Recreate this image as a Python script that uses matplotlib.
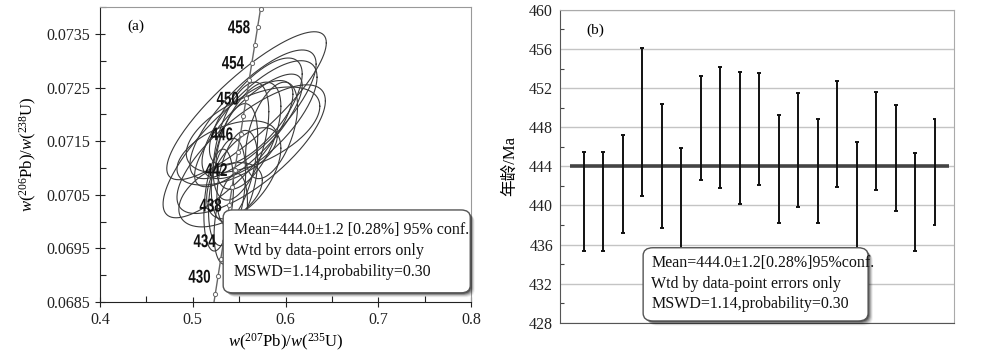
import numpy as np
import matplotlib
matplotlib.use("Agg")
import matplotlib.pyplot as plt
from matplotlib.patches import FancyBboxPatch, PathPatch
from matplotlib.textpath import TextPath
from matplotlib.font_manager import FontProperties
from matplotlib.transforms import Affine2D, ScaledTranslation
from matplotlib.ticker import MultipleLocator

# ---------------- data ----------------
# Panel (a): concordia ages (Ma) with markers and labels
marker_ages = [426, 428, 430, 432, 434, 436, 438, 440, 442, 444, 446, 448, 450, 452, 454, 456, 458, 460, 462]
label_ages = [430, 434, 438, 442, 446, 450, 454, 458]
LAMBDA_238 = 1.55125e-4   # per Ma
LAMBDA_235 = 9.8485e-4    # per Ma

# error ellipses: centre x, centre y, half-width x, half-height y, correlation
ell_cx = [0.558, 0.563, 0.538, 0.565, 0.572, 0.560, 0.537, 0.565, 0.528, 0.537,
          0.545, 0.552, 0.560, 0.548, 0.541, 0.585, 0.555, 0.530, 0.568]
ell_cy = [0.07216, 0.07135, 0.07135, 0.07200, 0.07190, 0.07170, 0.07128, 0.07171, 0.07040, 0.07055,
          0.07110, 0.07150, 0.07160, 0.07080, 0.07005, 0.07170, 0.07090, 0.07050, 0.07205]
ell_sx = [0.086, 0.080, 0.070, 0.068, 0.062, 0.058, 0.054, 0.072, 0.016, 0.020,
          0.025, 0.030, 0.035, 0.022, 0.018, 0.028, 0.040, 0.045, 0.050]
ell_sy = [0.00138, 0.00120, 0.00128, 0.00120, 0.00110, 0.00105, 0.00060, 0.00080, 0.00095, 0.00100,
          0.00110, 0.00110, 0.00100, 0.00090, 0.00085, 0.00090, 0.00085, 0.00060, 0.00100]
ell_rho = [0.85, 0.75, 0.80, 0.78, 0.72, 0.80, 0.50, 0.55, 0.30, 0.35,
           0.45, 0.50, 0.55, 0.40, 0.35, 0.50, 0.55, 0.45, 0.70]

xticks_a = [0.4, 0.5, 0.6, 0.7, 0.8]
xticklabels_a = ['0.4', '0.5', '0.6', '0.7', '0.8']
yticks_a = [0.0685, 0.0695, 0.0705, 0.0715, 0.0725, 0.0735]
yticklabels_a = ['0.0685', '0.0695', '0.0705', '0.0715', '0.0725', '0.0735']

# Panel (b): weighted mean plot, error bar tops and bottoms (Ma)
bar_top = [445.5, 445.5, 447.2, 456.1, 450.4, 445.9, 453.2, 454.2, 453.6, 453.5,
           449.3, 451.5, 448.8, 452.7, 446.5, 451.6, 450.3, 445.4, 448.8]
bar_bot = [435.3, 435.3, 437.2, 441.0, 437.7, 434.3, 442.6, 441.8, 440.2, 442.1,
           438.2, 439.8, 438.2, 441.9, 434.3, 441.6, 439.4, 435.3, 438.0]
mean_age = 444.0

text_a = ["Mean=444.0\u00b11.2 [0.28%] 95% conf.", "Wtd by data-point errors only", "MSWD=1.14,probability=0.30"]
text_b = ["Mean=444.0\u00b11.2[0.28%]95%conf.", "Wtd by data-point errors only", "MSWD=1.14,probability=0.30"]

# ---------------- style ----------------
plt.rcParams['font.family'] = ['Liberation Serif', 'Noto Sans CJK SC', 'DejaVu Sans']
plt.rcParams['mathtext.fontset'] = 'custom'
plt.rcParams['mathtext.rm'] = 'Liberation Serif'
plt.rcParams['mathtext.it'] = 'Liberation Serif:italic'

DPI = 100
fig = plt.figure(figsize=(10, 3.54), dpi=DPI)
axa = fig.add_axes([0.100, 0.147, 0.371, 0.833])
axb = fig.add_axes([0.560, 0.088, 0.394, 0.884])


def shadow_box(ax, x0, y0, w, h, lines, fs, tx, ty, dy):
    for k, a in zip(range(6, 0, -1), [0.06, 0.09, 0.13, 0.18, 0.25, 0.35]):
        off = k * 0.0025
        sh = FancyBboxPatch((x0 + off * 0.8, y0 - off), w, h,
                            boxstyle="round,pad=0,rounding_size=0.025",
                            transform=ax.transAxes, facecolor='black', edgecolor='none',
                            alpha=a, clip_on=False, zorder=8)
        ax.add_patch(sh)
    box = FancyBboxPatch((x0, y0), w, h, boxstyle="round,pad=0,rounding_size=0.025",
                         transform=ax.transAxes, facecolor='white', edgecolor='#555555',
                         linewidth=1.0, clip_on=False, zorder=9)
    ax.add_patch(box)
    for i, s in enumerate(lines):
        ax.text(tx, ty - i * dy, s, transform=ax.transAxes, fontsize=fs,
                va='center', ha='left', zorder=10, color='#111111')


def narrow_label(ax, s, x, y, size_px, squeeze, gap_px):
    prop = FontProperties(family='Liberation Sans', weight='bold')
    tp = TextPath((0, 0), s, size=100, prop=prop)
    ext = tp.get_extents()
    sc = size_px / 100.0
    tr = (Affine2D().translate(-ext.x1, -(ext.y0 + ext.y1) / 2)
          .scale(sc * squeeze, sc).translate(-gap_px, 0)
          + ScaledTranslation(x, y, ax.transData))
    ax.add_patch(PathPatch(tp, transform=tr, facecolor='#111111', edgecolor='none',
                           zorder=6, clip_on=False))


# ---------------- panel (a) ----------------
axa.set_xlim(0.4, 0.8)
axa.set_ylim(0.0685, 0.0740)

t = np.linspace(0, 2 * np.pi, 200)
for cx, cy, sx, sy, r in zip(ell_cx, ell_cy, ell_sx, ell_sy, ell_rho):
    xs = cx + sx * np.cos(t)
    ys = cy + sy * (r * np.cos(t) + np.sqrt(1 - r * r) * np.sin(t))
    axa.plot(xs, ys, color='#3a3a3a', lw=0.8, zorder=3)

ages = np.array(marker_ages, dtype=float)
cx_conc = np.exp(LAMBDA_235 * ages) - 1
cy_conc = np.exp(LAMBDA_238 * ages) - 1
axa.plot(cx_conc, cy_conc, color='#666666', lw=1.0, marker='o', ms=3,
         mfc='white', mec='#666666', mew=0.7, zorder=4)
for a in label_ages:
    lx = np.exp(LAMBDA_235 * a) - 1
    ly = np.exp(LAMBDA_238 * a) - 1
    narrow_label(axa, str(a), lx, ly, 18.5, 0.72, 8)

axa.set_xticks(xticks_a)
axa.set_xticklabels(xticklabels_a)
axa.xaxis.set_minor_locator(MultipleLocator(0.05))
axa.set_yticks(yticks_a)
axa.set_yticklabels(yticklabels_a)
axa.yaxis.set_minor_locator(MultipleLocator(0.0005))
axa.tick_params(which='major', direction='inout', length=7, width=0.8, labelsize=11.5, colors='#222222')
axa.tick_params(which='minor', direction='in', length=4, width=0.8, colors='#222222')
for s in ['top', 'right']:
    axa.spines[s].set_color('#999999')
for s in ['left', 'bottom']:
    axa.spines[s].set_color('#222222')
axa.set_xlabel(r'$w$(${}^{207}$Pb)/$w$(${}^{235}$U)', fontsize=12, labelpad=3)
axa.set_ylabel(r'$w$(${}^{206}$Pb)/$w$(${}^{238}$U)', fontsize=12, labelpad=5)
axa.text(0.073, 0.935, '(a)', transform=axa.transAxes, fontsize=11, ha='left', va='center')
shadow_box(axa, 0.332, 0.031, 0.666, 0.281, text_a, 11.5, 0.36, 0.245, 0.071)

# ---------------- panel (b) ----------------
pos = np.arange(1, len(bar_top) + 1)
top = np.array(bar_top)
bot = np.array(bar_bot)
axb.vlines(pos, bot, top, color='#111111', lw=1.4, zorder=4)
axb.hlines(top, pos - 0.1, pos + 0.1, color='#111111', lw=1.4, zorder=4)
axb.hlines(bot, pos - 0.1, pos + 0.1, color='#111111', lw=1.4, zorder=4)
axb.hlines(mean_age, pos[0] - 0.72, pos[-1] + 0.72, color='#444444', lw=2.6, zorder=3)

axb.set_xlim(-0.23, 20.0)
axb.set_ylim(428, 460)
axb.yaxis.set_major_locator(MultipleLocator(4))
axb.yaxis.set_minor_locator(MultipleLocator(2))
axb.set_xticks([])
axb.grid(axis='y', which='major', color='#c4c4c4', lw=1.0, zorder=0)
axb.set_axisbelow(True)
axb.tick_params(which='major', axis='y', direction='in', length=0, labelsize=11.5, colors='#222222', pad=5)
axb.tick_params(which='minor', axis='y', direction='in', length=3, width=0.8, colors='#444444')
for s in ['top', 'right']:
    axb.spines[s].set_color('#aaaaaa')
for s in ['left', 'bottom']:
    axb.spines[s].set_color('#555555')
axb.set_ylabel('年龄/Ma', fontsize=12, labelpad=8)
axb.text(0.068, 0.935, '(b)', transform=axb.transAxes, fontsize=11, ha='left', va='center')
shadow_box(axb, 0.211, 0.006, 0.571, 0.234, text_b, 11.5, 0.232, 0.191, 0.066)

fig.savefig('out.png', dpi=DPI)
